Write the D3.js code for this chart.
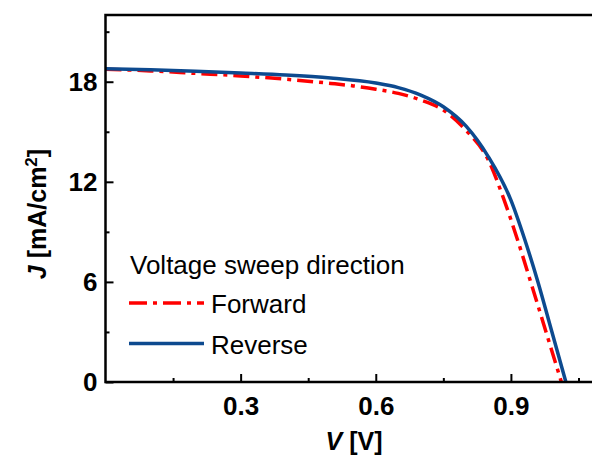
<!DOCTYPE html>
<html>
<head>
<meta charset="utf-8">
<script src="https://cdn.jsdelivr.net/npm/d3@7"></script>
<style>
  body { margin: 0; background: #fff; }
  svg { font-family: "Liberation Sans", Arial, sans-serif; }
</style>
</head>
<body>
<div id="chart"></div>
<script>
// data
var reverseV = [0, 0.1, 0.2, 0.3, 0.4, 0.5, 0.6, 0.65, 0.7, 0.75, 0.8, 0.85, 0.9, 0.93, 0.96, 0.99, 1.022];
var reverseJ = [18.78, 18.72, 18.63, 18.52, 18.4, 18.22, 17.92, 17.65, 17.2, 16.5, 15.35, 13.5, 10.9, 8.6, 6.0, 3.1, 0];
var forwardV = [0, 0.1, 0.2, 0.3, 0.4, 0.5, 0.55, 0.6, 0.65, 0.7, 0.75, 0.8, 0.85, 0.885, 0.915, 0.945, 0.978, 1.012];
var forwardJ = [18.75, 18.65, 18.5, 18.35, 18.15, 17.9, 17.75, 17.55, 17.3, 16.9, 16.3, 15.1, 13.3, 10.9, 8.5, 5.9, 3.0, 0];
var xMajor = [0.3, 0.6, 0.9];
var xMinor = [0.15, 0.45, 0.75, 1.05];
var yMajor = [0, 6, 12, 18];
var yMinor = [3, 9, 15, 21];
var legendTitle = "Voltage sweep direction";
var seriesNames = ["Forward", "Reverse"];

var w = 592;
var h = 459;
var padL = 105.5, padT = 15, padB = 382, padR = 601;

var svg = d3.select("#chart")
            .append("svg")
              .attr("width", w)
              .attr("height", h);

var xScale = d3.scaleLinear().domain([0, 1.1]).range([padL, padR]);
var yScale = d3.scaleLinear().domain([0, 22]).range([padB, padT]);

function toPoints(vs, js) {
  return vs.map(function(v, i) { return [v, js[i]]; });
}

var line = d3.line()
             .x(function(d) { return xScale(d[0]); })
             .y(function(d) { return yScale(d[1]); })
             .curve(d3.curveMonotoneX);

// curves
svg.append("path")
   .attr("d", line(toPoints(forwardV, forwardJ)))
   .attr("fill", "none")
   .attr("stroke", "#ff0000")
   .attr("stroke-width", 3.5)
   .attr("stroke-dasharray", "16,6,4,6");

svg.append("path")
   .attr("d", line(toPoints(reverseV, reverseJ)))
   .attr("fill", "none")
   .attr("stroke", "#0d4a8f")
   .attr("stroke-width", 3.5);

// axes, ticks inward
var x_axis = d3.axisBottom(xScale)
               .tickValues(xMajor)
               .tickSize(-8)
               .tickPadding(15)
               .tickFormat(d3.format(".1f"));
var x_minor = d3.axisBottom(xScale).tickValues(xMinor).tickSize(-4).tickFormat("");

var y_axis = d3.axisLeft(yScale)
               .tickValues(yMajor)
               .tickSize(-8)
               .tickPadding(8)
               .tickFormat(d3.format("d"));
var y_minor = d3.axisLeft(yScale).tickValues(yMinor).tickSize(-4).tickFormat("");

function styleAxis(g) {
  g.select(".domain").remove();
  g.selectAll("line").attr("stroke", "#000").attr("stroke-width", 2);
  g.selectAll("text")
   .attr("fill", "#000")
   .style("font-size", "26px")
   .style("font-weight", "bold");
}

svg.append("g").attr("transform", "translate(0," + padB + ")").call(x_minor).call(styleAxis);
svg.append("g").attr("transform", "translate(0," + padB + ")").call(x_axis).call(styleAxis);
svg.append("g").attr("transform", "translate(" + padL + ",0)").call(y_minor).call(styleAxis);
svg.append("g").attr("transform", "translate(" + padL + ",0)").call(y_axis).call(styleAxis);

// frame: left, bottom, top
svg.append("path")
   .attr("d", "M" + w + "," + padT + "H" + padL + "V" + padB + "H" + w)
   .attr("fill", "none")
   .attr("stroke", "#000")
   .attr("stroke-width", 2.5);

// axis titles
var xt = svg.append("text")
   .attr("x", 354).attr("y", 450)
   .attr("text-anchor", "middle")
   .style("font-size", "25px").style("font-weight", "bold");
xt.append("tspan").style("font-style", "italic").text("V");
xt.append("tspan").text(" [V]");

var yt = svg.append("text")
   .attr("transform", "translate(46,214) rotate(-90)")
   .attr("text-anchor", "middle")
   .style("font-size", "25px").style("font-weight", "bold");
yt.append("tspan").style("font-style", "italic").text("J");
yt.append("tspan").text(" [mA/cm");
yt.append("tspan").attr("dy", -9).style("font-size", "17px").text("2");
yt.append("tspan").attr("dy", 9).text("]");

// legend
svg.append("text")
   .attr("x", 130).attr("y", 274)
   .style("font-size", "26px")
   .text(legendTitle);

var legendY = [303, 343.5];
var legendStyle = [
  {color: "#ff0000", dash: "18,6,4,6"},
  {color: "#0d4a8f", dash: null}
];
seriesNames.forEach(function(name, i) {
  svg.append("line")
     .attr("x1", 129).attr("x2", 204)
     .attr("y1", legendY[i]).attr("y2", legendY[i])
     .attr("stroke", legendStyle[i].color)
     .attr("stroke-width", 3.5)
     .attr("stroke-dasharray", legendStyle[i].dash);
  svg.append("text")
     .attr("x", 211).attr("y", legendY[i] + 10)
     .style("font-size", "26px")
     .text(name);
});
</script>
</body>
</html>
